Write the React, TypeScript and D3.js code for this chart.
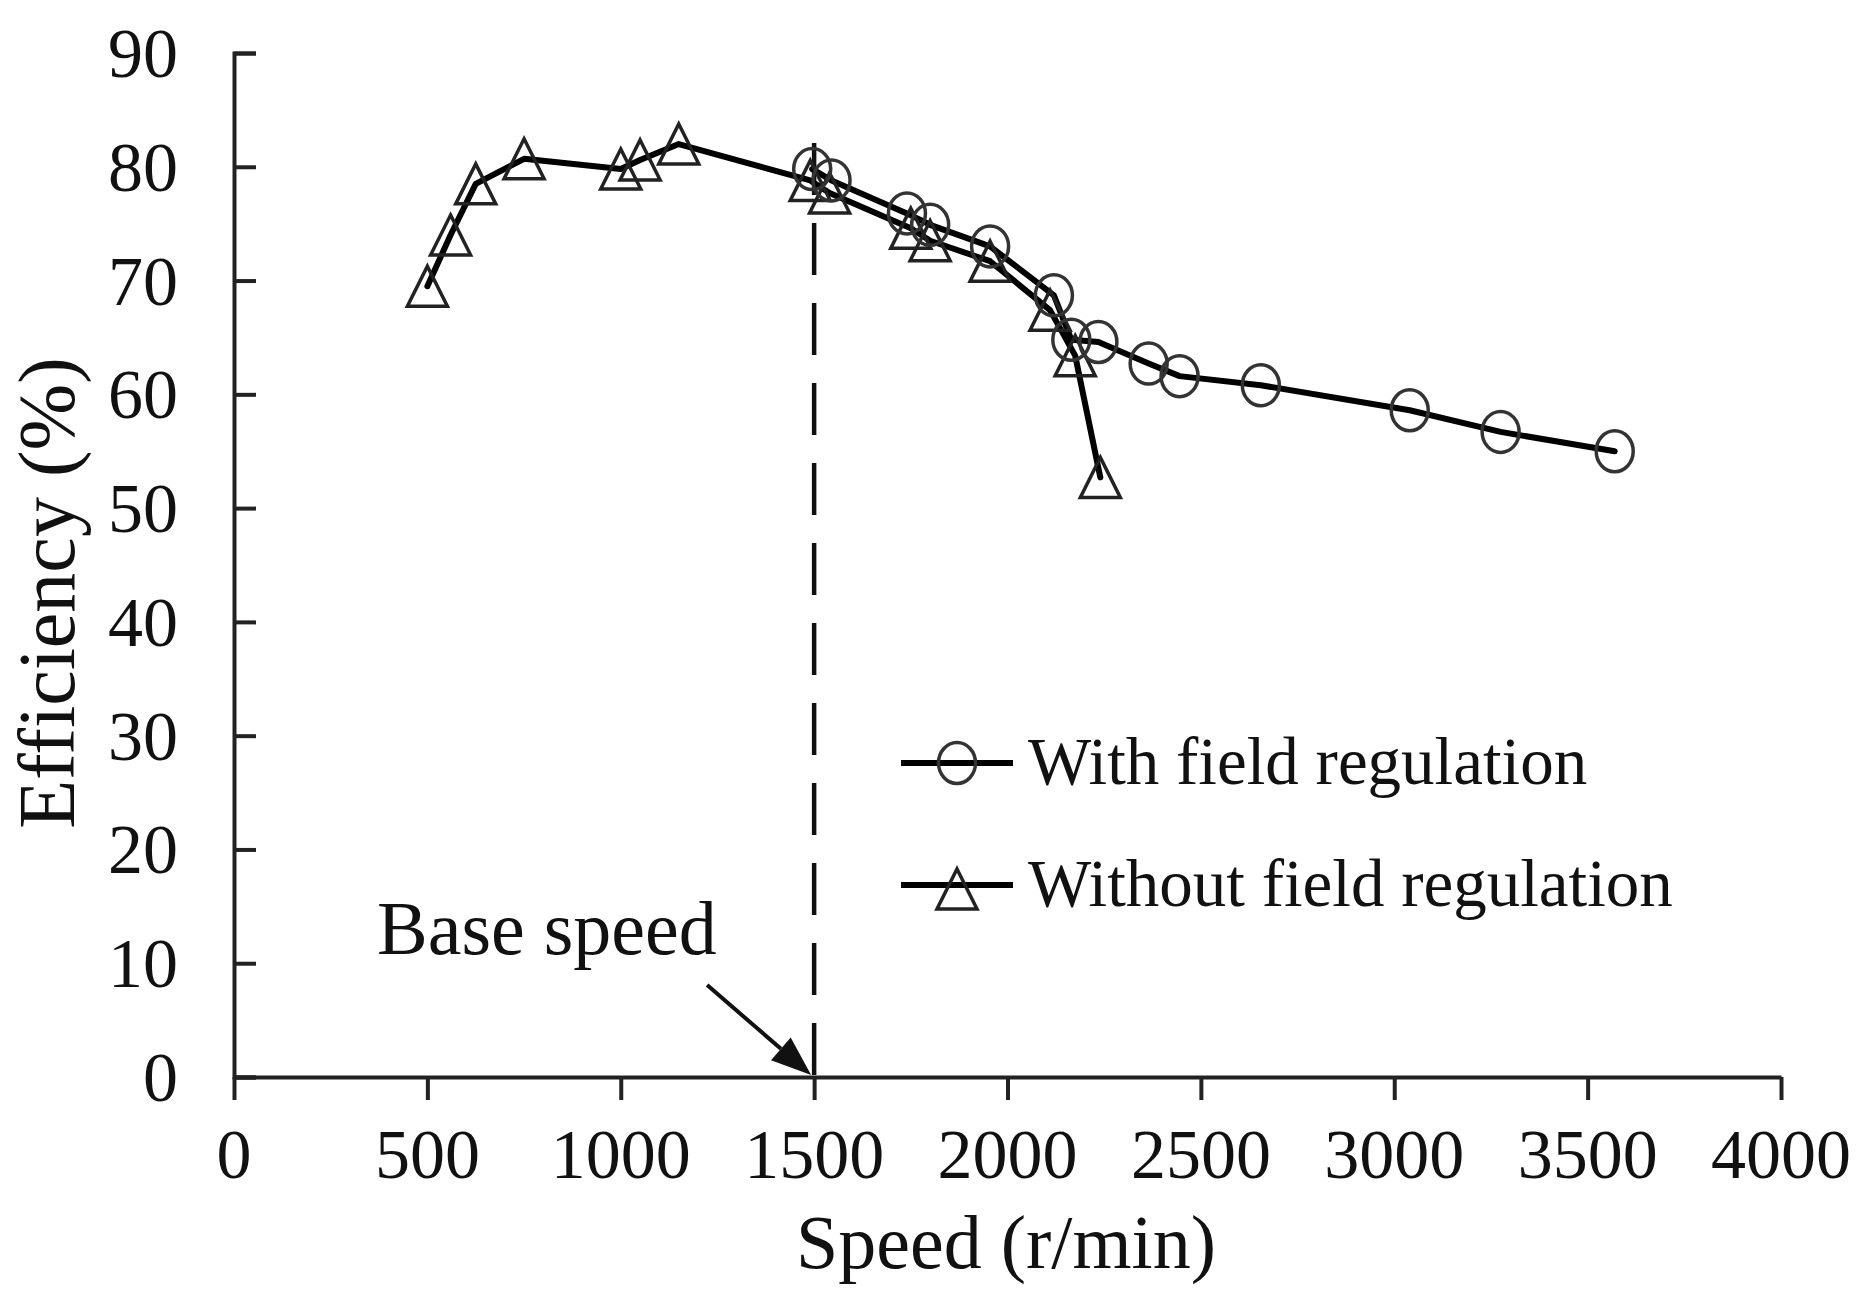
import * as d3 from "d3";
import { useEffect, useRef } from "react";

// Speed (r/min) and efficiency (%)
const speedWith = [1495, 1545, 1740, 1800, 1955, 2120, 2165, 2235, 2365, 2445, 2655, 3040, 3275, 3570];
const effWith = [79.8, 78.8, 75.9, 74.9, 73.0, 68.7, 64.8, 64.6, 62.7, 61.6, 60.8, 58.6, 56.7, 55];

const speedWithout = [500, 560, 625, 750, 1000, 1050, 1150, 1490, 1540, 1750, 1800, 1955, 2110, 2175, 2240];
const effWithout = [69.5, 74, 78.5, 80.7, 79.8, 80.6, 82, 78.8, 77.7, 74.6, 73.5, 71.7, 67.4, 63.4, 52.7];

const xTicks = [0, 500, 1000, 1500, 2000, 2500, 3000, 3500, 4000];
const yTicks = [0, 10, 20, 30, 40, 50, 60, 70, 80, 90];

const baseSpeed = 1500;
const baseLineTop = 82.1;

const legendLabels = ["With field regulation", "Without field regulation"];

const W = 1861;
const H = 1307;
const FONT = "'Liberation Serif', 'Times New Roman', serif";

export default function App() {
  const ref = useRef<SVGSVGElement | null>(null);

  useEffect(() => {
    const svg = d3.select(ref.current);
    svg.selectAll("*").remove();

    const x = d3.scaleLinear().domain([0, 4000]).range([234, 1781]);
    const y = d3.scaleLinear().domain([0, 90]).range([1077, 53]);

    svg.append("rect").attr("width", W).attr("height", H).attr("fill", "#fff");

    // axes
    const yAxis = svg.append("g").attr("transform", `translate(${x(0)},0)`)
      .call(d3.axisRight(y).tickValues(yTicks).tickSize(22).tickFormat(() => ""));
    yAxis.select(".domain").attr("stroke", "#222").attr("stroke-width", 4);
    yAxis.selectAll(".tick line").attr("stroke", "#222").attr("stroke-width", 4);

    const xAxis = svg.append("g").attr("transform", `translate(0,${y(0)})`)
      .call(d3.axisBottom(x).tickValues(xTicks).tickSize(23).tickSizeOuter(0).tickFormat(() => ""));
    xAxis.select(".domain").attr("stroke", "#222").attr("stroke-width", 4);
    xAxis.selectAll(".tick line").attr("stroke", "#222").attr("stroke-width", 4);

    svg.append("g").selectAll("text").data(yTicks).enter().append("text")
      .attr("x", 178).attr("y", d => y(d) + 24)
      .attr("text-anchor", "end")
      .attr("font-family", FONT).attr("font-size", 70).attr("fill", "#111")
      .text(d => d);

    svg.append("g").selectAll("text").data(xTicks).enter().append("text")
      .attr("x", d => x(d)).attr("y", 1178)
      .attr("text-anchor", "middle")
      .attr("font-family", FONT).attr("font-size", 70).attr("fill", "#111")
      .text(d => d);

    svg.append("text")
      .attr("x", 1006).attr("y", 1268)
      .attr("text-anchor", "middle")
      .attr("font-family", FONT).attr("font-size", 76).attr("fill", "#111")
      .text("Speed (r/min)");

    svg.append("text")
      .attr("transform", `translate(74,593) rotate(-90)`)
      .attr("text-anchor", "middle")
      .attr("font-family", FONT).attr("font-size", 80).attr("fill", "#111")
      .text("Efficiency (%)");

    // base speed marker (dashes start at the top)
    svg.append("line")
      .attr("x1", x(baseSpeed)).attr("x2", x(baseSpeed))
      .attr("y1", y(baseLineTop)).attr("y2", y(0))
      .attr("stroke", "#111").attr("stroke-width", 4.5)
      .attr("stroke-dasharray", "52 28");

    const ax = x(baseSpeed) - 3;
    const ay = y(0) - 2;
    const sx = ax - 104;
    const sy = ay - 90;
    const ang = Math.atan2(ay - sy, ax - sx);
    const hl = 40;
    const hw = 15;
    const bx = ax - hl * Math.cos(ang);
    const by = ay - hl * Math.sin(ang);
    svg.append("line")
      .attr("x1", sx).attr("y1", sy).attr("x2", bx).attr("y2", by)
      .attr("stroke", "#111").attr("stroke-width", 4);
    svg.append("path")
      .attr("d", `M${ax},${ay}L${bx - hw * Math.sin(ang)},${by + hw * Math.cos(ang)}L${bx + hw * Math.sin(ang)},${by - hw * Math.cos(ang)}Z`)
      .attr("fill", "#111");

    svg.append("text")
      .attr("x", 377).attr("y", 954)
      .attr("font-family", FONT).attr("font-size", 76).attr("fill", "#111")
      .text("Base speed");

    // series
    const line = d3.line<[number, number]>().x(d => x(d[0])).y(d => y(d[1]));
    const withPts = speedWith.map((s, i) => [s, effWith[i]] as [number, number]);
    const withoutPts = speedWithout.map((s, i) => [s, effWithout[i]] as [number, number]);

    const tri = (cx: number, cy: number, r = 20) =>
      `M${cx},${cy - r}L${cx + r},${cy + r}L${cx - r},${cy + r}Z`;

    svg.append("path").datum(withoutPts).attr("d", line)
      .attr("fill", "none").attr("stroke", "#000").attr("stroke-width", 6)
      .attr("stroke-linejoin", "round").attr("stroke-linecap", "round");
    svg.append("path").datum(withPts).attr("d", line)
      .attr("fill", "none").attr("stroke", "#000").attr("stroke-width", 6)
      .attr("stroke-linejoin", "round").attr("stroke-linecap", "round");

    svg.append("g").selectAll("path").data(withoutPts).enter().append("path")
      .attr("d", d => tri(x(d[0]), y(d[1])))
      .attr("fill", "none").attr("stroke", "#222").attr("stroke-width", 3.5);

    svg.append("g").selectAll("ellipse").data(withPts).enter().append("ellipse")
      .attr("cx", d => x(d[0])).attr("cy", d => y(d[1]))
      .attr("rx", 18.5).attr("ry", 20.5)
      .attr("fill", "none").attr("stroke", "#333").attr("stroke-width", 3.5);

    // legend
    const legY = [763, 885];
    legendLabels.forEach((label, i) => {
      const g = svg.append("g");
      g.append("line").attr("x1", 901).attr("x2", 1013)
        .attr("y1", legY[i]).attr("y2", legY[i])
        .attr("stroke", "#000").attr("stroke-width", 6);
      if (i === 0) {
        g.append("ellipse").attr("cx", 957).attr("cy", legY[i])
          .attr("rx", 18.5).attr("ry", 20.5)
          .attr("fill", "none").attr("stroke", "#333").attr("stroke-width", 3.5);
      } else {
        g.append("path").attr("d", tri(957, legY[i] + 4))
          .attr("fill", "none").attr("stroke", "#222").attr("stroke-width", 3.5);
      }
      g.append("text")
        .attr("x", 1028).attr("y", legY[i] + 21)
        .attr("font-family", FONT).attr("font-size", 67).attr("fill", "#111")
        .text(label);
    });
  }, []);

  return (
    <div style={{ position: "absolute", left: 0, top: 0 }}>
      <svg ref={ref} width={W} height={H} viewBox={`0 0 ${W} ${H}`} style={{ display: "block" }} />
    </div>
  );
}
